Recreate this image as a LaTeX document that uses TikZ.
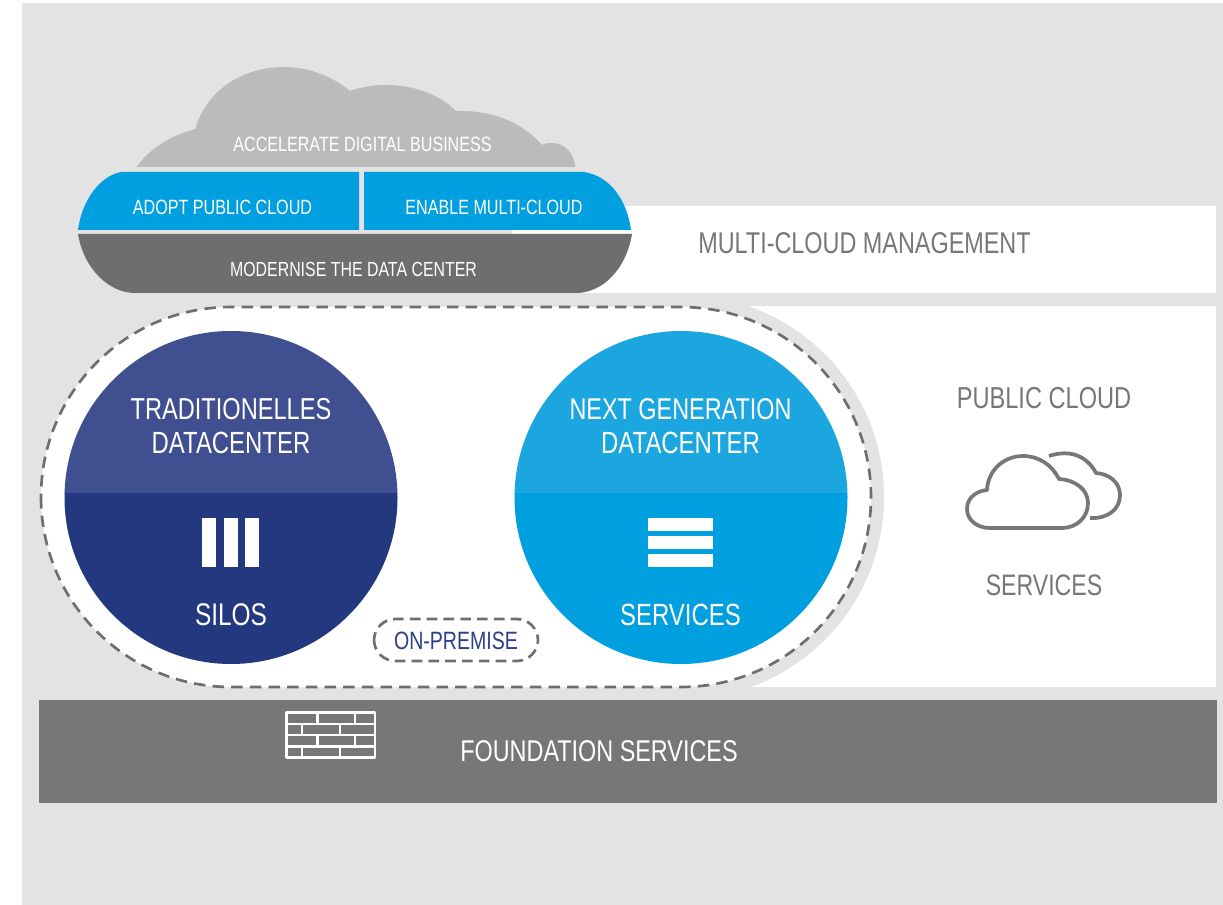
\documentclass[tikz,border=0pt]{standalone}
\usepackage{fontspec}
\setmainfont[FakeStretch=0.78]{Liberation Sans}
\definecolor{bgG}{HTML}{E3E3E3}
\definecolor{cloudG}{HTML}{BBBBBB}
\definecolor{darkG}{HTML}{6E6E6E}
\definecolor{foundG}{HTML}{777777}
\definecolor{txtG}{HTML}{777777}
\definecolor{blueA}{HTML}{009FDF}
\definecolor{blueB}{HTML}{1CA6DF}
\definecolor{navyA}{HTML}{23387F}
\definecolor{navyB}{HTML}{3F4F8F}
\definecolor{navyT}{HTML}{2B3F8B}
\newcommand{\fs}[1]{\fontsize{#1}{#1}\selectfont}
\tikzset{
  lbl/.style={inner sep=0pt,anchor=center,text=white,font=\fs{#1}},
  gry/.style={inner sep=0pt,anchor=center,text=txtG,font=\fs{#1}},
  dashline/.style={draw=darkG,line width=2pt,dash pattern=on 8.6pt off 5.4pt},
  iconline/.style={draw=txtG,line width=2.8pt,line cap=round,line join=round},
  brick/.style={draw=white,line width=1.9pt,line join=round},
}
\begin{document}
\begin{tikzpicture}[x=0.75pt,y=-0.75pt]
\useasboundingbox (0,0) rectangle (1223,905);
\fill[white] (0,0) rectangle (1223,905);
\fill[bgG] (22,3) rectangle (1223,905);
% white panels
\fill[white] (512,206) rectangle (1216,293);
\fill[white] (750,306) rectangle (1216,687);
\begin{scope}
  \clip (600,306) rectangle (1216,687);
  \fill[bgG] (682,497) circle[radius=202];
\end{scope}
% on-premise pill
\fill[white,rounded corners=142.5pt] (41,307) rectangle (871,687);
\draw[dashline,rounded corners=142.5pt] (41,307) rectangle (871,687);
% left circle
\begin{scope}
  \clip (40,300) rectangle (420,493);
  \fill[navyB] (231,497.5) circle[radius=166.5];
\end{scope}
\begin{scope}
  \clip (40,493) rectangle (420,700);
  \fill[navyA] (231,497.5) circle[radius=166.5];
\end{scope}
% right circle
\begin{scope}
  \clip (490,300) rectangle (870,493);
  \fill[blueB] (681,497.5) circle[radius=166.5];
\end{scope}
\begin{scope}
  \clip (490,493) rectangle (870,700);
  \fill[blueA] (681,497.5) circle[radius=166.5];
\end{scope}
% silos icon
\fill[white] (202,518) rectangle (216,567);
\fill[white] (224,518) rectangle (238,567);
\fill[white] (245,518) rectangle (259,567);
% services icon
\fill[white] (648,518) rectangle (713,531);
\fill[white] (648,536) rectangle (713,549);
\fill[white] (648,554) rectangle (713,567);
% on-premise label box
\draw[draw=darkG,line width=2pt,dash pattern=on 8pt off 4.6pt,rounded corners=16pt] (374,619) rectangle (538,661);
% foundation
\fill[foundG] (39,700) rectangle (1217,803);
% brick icon
\draw[brick] (286.5,712.5) rectangle (375,757.5);
\draw[brick] (286.5,724) -- (375,724) (286.5,735) -- (375,735) (286.5,746.5) -- (375,746.5);
\draw[brick] (317.5,712.5) -- (317.5,724) (355,712.5) -- (355,724);
\draw[brick] (302,724) -- (302,735) (340,724) -- (340,735);
\draw[brick] (317.5,735) -- (317.5,746.5) (355,735) -- (355,746.5);
\draw[brick] (302,746.5) -- (302,757.5) (340,746.5) -- (340,757.5);
% big cloud
\fill[cloudG] (136.5,167) .. controls (150,148) and (172,135) .. (195.5,129)
  .. controls (205,93) and (240,67) .. (284,67)
  .. controls (310,67) and (333,77) .. (350,91)
  .. controls (361,87) and (373,85) .. (385,85)
  .. controls (415,85) and (440,95) .. (456,111)
  .. controls (492,110) and (522,122) .. (542,145)
  .. controls (545,143) and (549,143) .. (552,143)
  .. controls (565,143) and (575,154) .. (575,167) -- cycle;
% blue halves
\fill[blueA] (78,230) .. controls (82,200) and (100,176) .. (121,172) -- (359,172) -- (359,230) -- cycle;
\fill[blueA] (631,230) .. controls (627,200) and (610,176) .. (584,172) -- (364,172) -- (364,230) -- cycle;
% dark base
\fill[darkG] (78,234) .. controls (84,270) and (110,293) .. (135,293) -- (576,293) .. controls (602,293) and (626,270) .. (632,234) -- cycle;
% public cloud icon
\draw[iconline] (990,528) -- (1062,528)
  .. controls (1077,528) and (1088,517) .. (1088,503)
  .. controls (1088,490) and (1076,480) .. (1059,479)
  .. controls (1052,465) and (1039,456) .. (1023,456)
  .. controls (1004,456) and (988,470) .. (987,490)
  .. controls (976,491) and (967,498) .. (967,509)
  .. controls (967,520) and (977,528) .. (990,528) -- cycle;
\draw[iconline,line cap=butt] (1049,456) .. controls (1070,449) and (1087,456) .. (1096,473)
  .. controls (1110,474) and (1120,483) .. (1120,495)
  .. controls (1120,509) and (1108,519) .. (1090,518);
% texts
\node[lbl=15.5] (t1) at (362.5,144.5) {ACCELERATE DIGITAL BUSINESS};
\node[lbl=15.5] (t2) at (222.5,207.5) {ADOPT PUBLIC CLOUD};
\node[lbl=15.5] (t3) at (494,207.5) {ENABLE MULTI-CLOUD};
\node[lbl=15.3] (t4) at (353.5,269.5) {MODERNISE THE DATA CENTER};
\node[gry=22.5] (t5) at (864.5,243) {MULTI-CLOUD MANAGEMENT};
\node[gry=22.7] (t6) at (1044,398) {PUBLIC CLOUD};
\node[gry=22.2] (t7) at (1044,585) {SERVICES};
\node[lbl=22.7] (t8) at (231,409) {TRADITIONELLES};
\node[lbl=23] (t9) at (231,443) {DATACENTER};
\node[lbl=22.5] (t10) at (680.5,409) {NEXT GENERATION};
\node[lbl=23] (t11) at (680.5,443) {DATACENTER};
\node[lbl=23.5] (t12) at (231,614.5) {SILOS};
\node[lbl=23] (t13) at (680.5,614.5) {SERVICES};
\node[gry=18.8,text=navyT] (t14) at (456,641) {ON-PREMISE};
\node[lbl=22.5] (t15) at (599,751.5) {FOUNDATION SERVICES};
\end{tikzpicture}
\end{document}
